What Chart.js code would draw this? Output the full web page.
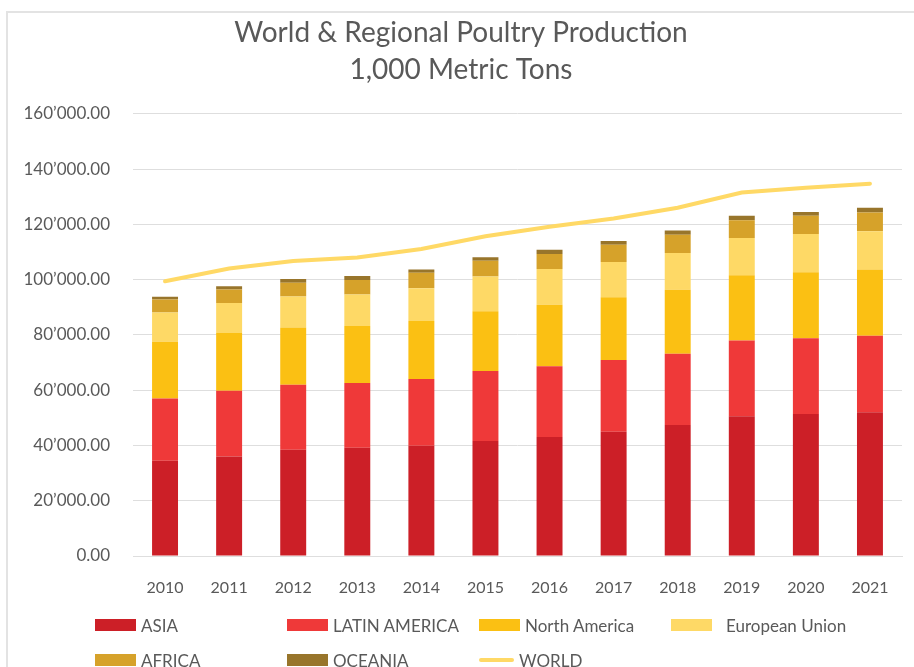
<!DOCTYPE html>
<html>
<head>
<meta charset="utf-8">
<script src="https://cdn.jsdelivr.net/npm/chart.js@4/dist/chart.umd.min.js"></script>
<style>
  html, body { margin: 0; padding: 0; background: #fff; }
  #wrap { position: relative; width: 914px; height: 667px; overflow: hidden; }
  #frame { position: absolute; left: 6px; top: 11px; width: 1000px; height: 800px; border: 2px solid #e3e3e3; box-sizing: border-box; }
  canvas { position: absolute; left: 0; top: 0; }
  .lg { position: absolute; display: flex; align-items: center; font: 17px Lato, sans-serif; color: #595959; white-space: pre; }
  .lg .box { width: 41px; height: 12px; margin-right: 5px; }
  .lg .ln { width: 35px; height: 4px; border-radius: 2px; margin-right: 5px; }
</style>
</head>
<body>
<div id="wrap">
  <div id="frame"></div>
  <canvas id="chart" width="914" height="667"></canvas>
  <div id="legend"></div>
</div>
<script>
const years = ["2010", "2011", "2012", "2013", "2014", "2015", "2016", "2017", "2018", "2019", "2020", "2021"];

// 1,000 metric tons
const asia = [34500, 36000, 38400, 39200, 39900, 41600, 43100, 45000, 47400, 50600, 51400, 52000];
const latinAmerica = [22500, 23800, 23600, 23400, 24100, 25300, 25600, 25900, 25800, 27400, 27400, 27700];
const northAmerica = [20500, 20900, 20700, 20600, 21000, 21700, 22200, 22700, 23100, 23600, 23900, 24000];
const europeanUnion = [10600, 10800, 11200, 11400, 11900, 12500, 12900, 12800, 13300, 13500, 13800, 13800];
const africa = [4700, 4900, 5000, 5300, 5600, 5700, 5500, 6200, 6600, 6400, 6600, 6800];
const oceania = [1000, 1200, 1300, 1400, 1200, 1300, 1500, 1400, 1600, 1600, 1400, 1700];
const world = [99400, 104000, 106700, 108000, 111100, 115700, 119100, 122100, 126000, 131500, 133200, 134700];

const titleLines = ["World & Regional Poultry Production", "1,000 Metric Tons"];

const textColor = "#595959";
const gridColor = "#dedede";

const fmt = v => {
    const [int, dec] = Number(v).toFixed(2).split(".");
    return int.replace(/\B(?=(\d{3})+(?!\d))/g, "\u2019") + "." + dec;
};

const bar = (label, data, color) => ({
    type: "bar",
    label,
    data,
    backgroundColor: color,
    borderWidth: 0,
    stack: "regions",
    order: 1,
    barPercentage: 0.405,
    categoryPercentage: 1.0
});

const datasets = [
    bar("ASIA", asia, "#cc1f27"),
    bar("LATIN AMERICA", latinAmerica, "#ef3939"),
    bar("North America", northAmerica, "#fbc013"),
    bar("European Union", europeanUnion, "#fed966"),
    bar("AFRICA", africa, "#d6a22a"),
    bar("OCEANIA", oceania, "#98752b"),
    {
        type: "line",
        label: "WORLD",
        data: world,
        borderColor: "#ffd966",
        backgroundColor: "#ffd966",
        borderWidth: 4,
        borderCapStyle: "round",
        pointRadius: 0,
        tension: 0,
        stack: "world",
        order: 0
    }
];

const chart = new Chart(document.getElementById("chart"), {
    data: { labels: years, datasets },
    options: {
        responsive: false,
        animation: false,
        layout: { padding: { left: 20, right: 12, top: 0, bottom: 71 } },
        plugins: {
            legend: { display: false },
            tooltip: { enabled: false },
            title: {
                display: true,
                text: titleLines,
                color: textColor,
                font: { family: "Lato", size: 28, weight: "normal", lineHeight: 1.3 },
                padding: { top: 15, bottom: 26 }
            }
        },
        scales: {
            x: {
                stacked: true,
                grid: { display: false },
                border: { display: true, color: gridColor, width: 1 },
                ticks: { color: textColor, font: { family: "Lato", size: 16 }, padding: 14 },
                afterFit: s => { s.height = 40; }
            },
            y: {
                stacked: true,
                min: 0,
                max: 160000,
                grid: { color: gridColor, lineWidth: 1, drawTicks: false },
                border: { display: false },
                ticks: {
                    stepSize: 20000,
                    color: textColor,
                    font: { family: "Lato", size: 17 },
                    padding: 23,
                    callback: v => fmt(v)
                },
                afterFit: s => { s.width = 113; }
            }
        }
    }
});

// legend laid out in a fixed grid like the original
const cols = [95, 287, 479, 671];
const rows = [625, 660];
const legendEl = document.getElementById("legend");
chart.data.datasets.forEach((ds, i) => {
    const item = document.createElement("div");
    item.className = "lg";
    item.style.left = cols[i % 4] + "px";
    item.style.top = (rows[Math.floor(i / 4)] - 10) + "px";
    item.style.height = "20px";
    const mark = document.createElement("span");
    mark.className = ds.type === "line" ? "ln" : "box";
    mark.style.background = ds.type === "line" ? ds.borderColor : ds.backgroundColor;
    if (ds.label === "European Union") mark.style.marginRight = "14px";
    item.appendChild(mark);
    item.appendChild(document.createTextNode(ds.label));
    legendEl.appendChild(item);
});
</script>
</body>
</html>
